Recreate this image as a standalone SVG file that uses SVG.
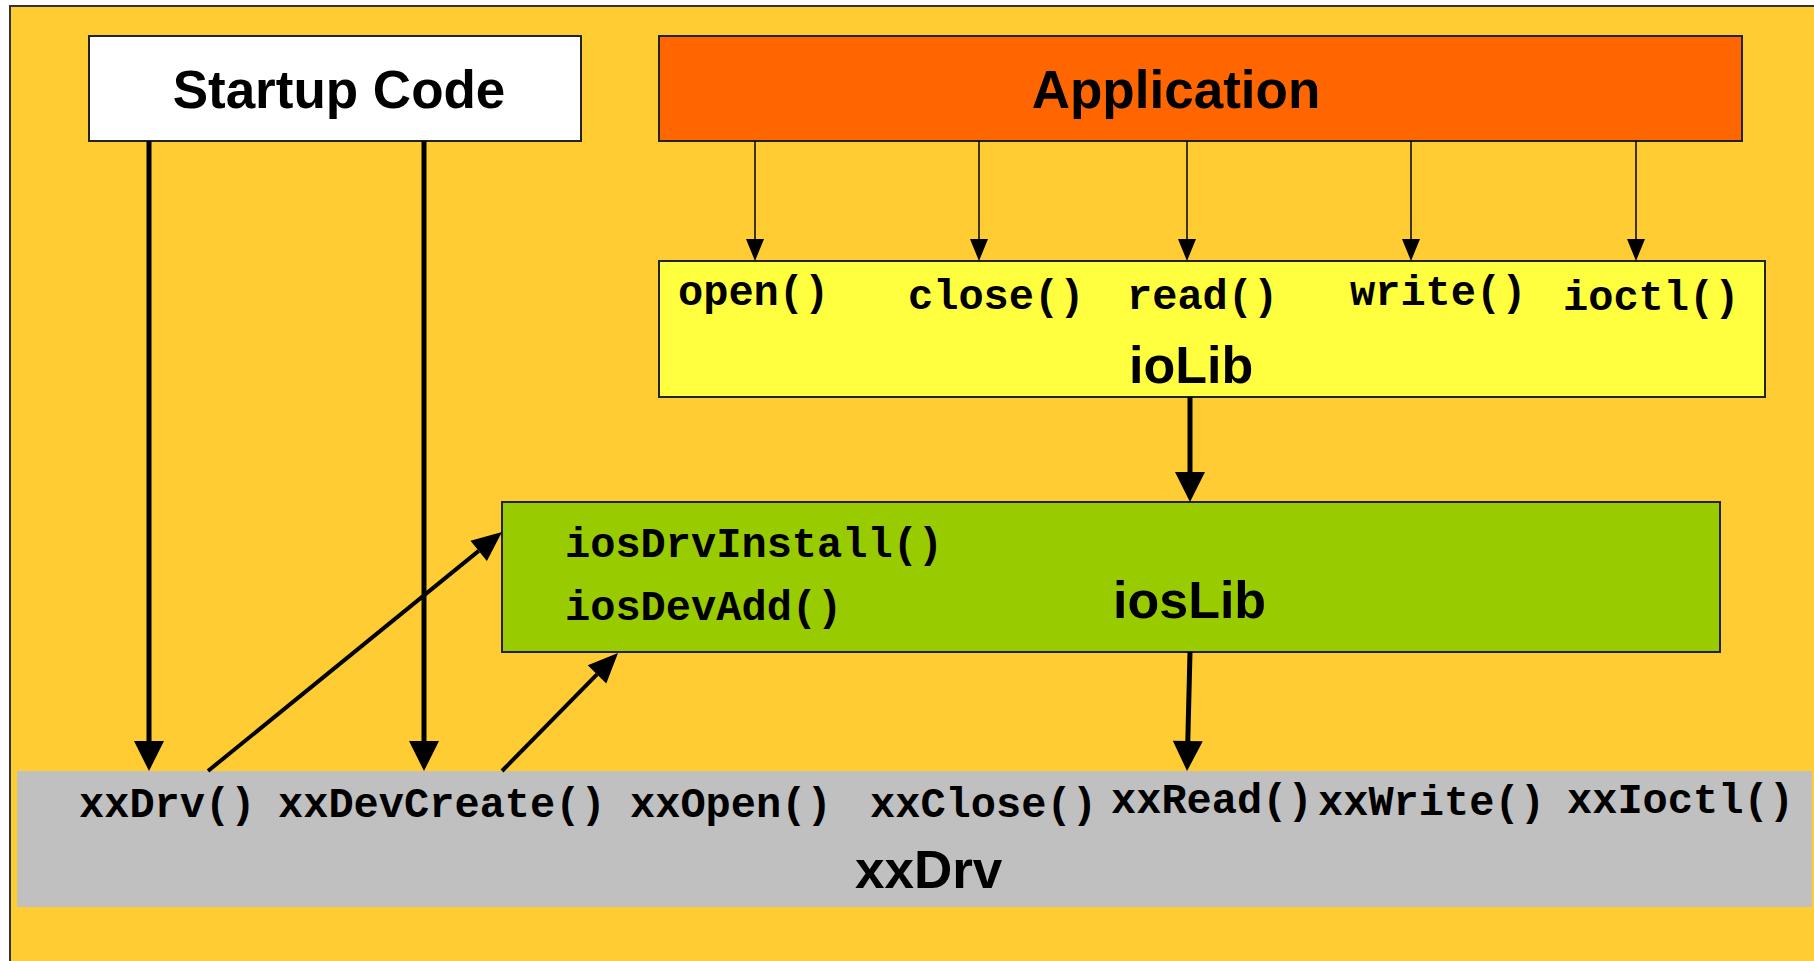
<svg xmlns="http://www.w3.org/2000/svg" width="1814" height="961" viewBox="0 0 1814 961">
<style>
.box{stroke:#222;stroke-width:2}
.t{font-family:"Liberation Sans",Arial,sans-serif;font-weight:bold;fill:#000}
.m{font-family:"Liberation Mono","Courier New",monospace;font-weight:bold;font-size:42px;fill:#000}
.thick{stroke:#000;stroke-width:5;fill:none}
.diag{stroke:#000;stroke-width:4;fill:none}
.thin{stroke:#000;stroke-width:1.5;fill:none}
</style>
<defs>
<marker id="ah" markerUnits="userSpaceOnUse" markerWidth="30" markerHeight="30" refX="0" refY="15" orient="auto" overflow="visible">
<path d="M0,0 L30,15 L0,30 z" fill="#000"/>
</marker>
<marker id="ah2" markerUnits="userSpaceOnUse" markerWidth="30" markerHeight="26" refX="0" refY="13" orient="auto" overflow="visible">
<path d="M0,0 L30,13 L0,26 z" fill="#000"/>
</marker>
<marker id="as" markerUnits="userSpaceOnUse" markerWidth="22" markerHeight="18" refX="0" refY="9" orient="auto" overflow="visible">
<path d="M0,0 L22,9 L0,18 z" fill="#000"/>
</marker>
</defs>
<rect x="0" y="0" width="1814" height="961" fill="#fff"/>
<rect x="10" y="6" width="1820" height="970" fill="#FFCC33" stroke="#333" stroke-width="2"/>

<g id="startup">
<rect class="box" x="89" y="36" width="492" height="105" fill="#fff"/>
<text class="t" x="339" y="108" font-size="53" text-anchor="middle">Startup Code</text>
</g>

<g id="application">
<rect class="box" x="659" y="36" width="1083" height="105" fill="#FF6600"/>
<text class="t" x="1176" y="108" font-size="53" text-anchor="middle">Application</text>
</g>

<g id="ioLib">
<rect class="box" x="659" y="261" width="1106" height="136" fill="#FFFF40"/>
<text class="m" x="678" y="305">open()</text>
<text class="m" x="908" y="309">close()</text>
<text class="m" x="1127" y="309">read()</text>
<text class="m" x="1350" y="305">write()</text>
<text class="m" x="1563" y="310">ioctl()</text>
<text class="t" x="1129" y="383" font-size="52">ioLib</text>
</g>

<g id="iosLib">
<rect class="box" x="502" y="502" width="1218" height="150" fill="#99CC00"/>
<text class="m" x="565" y="557">iosDrvInstall()</text>
<text class="m" x="565" y="620">iosDevAdd()</text>
<text class="t" x="1113" y="618" font-size="52">iosLib</text>
</g>

<g id="xxDrv">
<rect x="17" y="771" width="1795" height="136" fill="#C0C0C0"/>
<text class="m" x="79" y="817">xxDrv()</text>
<text class="m" x="278" y="817">xxDevCreate()</text>
<text class="m" x="630" y="817">xxOpen()</text>
<text class="m" x="870" y="817">xxClose()</text>
<text class="m" x="1111" y="813">xxRead()</text>
<text class="m" x="1318" y="815">xxWrite()</text>
<text class="m" x="1567" y="813">xxIoctl()</text>
<text class="t" x="855" y="888" font-size="53">xxDrv</text>
</g>

<g id="connectors">
<line class="thin" x1="755" y1="141" x2="755" y2="239" marker-end="url(#as)"/>
<line class="thin" x1="979" y1="141" x2="979" y2="239" marker-end="url(#as)"/>
<line class="thin" x1="1187" y1="141" x2="1187" y2="239" marker-end="url(#as)"/>
<line class="thin" x1="1411" y1="141" x2="1411" y2="239" marker-end="url(#as)"/>
<line class="thin" x1="1636" y1="141" x2="1636" y2="239" marker-end="url(#as)"/>
<line class="thick" x1="149" y1="141" x2="149" y2="741" marker-end="url(#ah)"/>
<line class="thick" x1="424" y1="141" x2="424" y2="741" marker-end="url(#ah)"/>
<line class="thick" x1="1190" y1="397" x2="1190" y2="472" marker-end="url(#ah)"/>
<line class="thick" x1="1190" y1="652" x2="1187.8" y2="741" marker-end="url(#ah)"/>
<line class="diag" x1="208" y1="771" x2="478.7" y2="550.9" marker-end="url(#ah2)"/>
<line class="diag" x1="502" y1="771" x2="597" y2="674.4" marker-end="url(#ah2)"/>
</g>
</svg>
